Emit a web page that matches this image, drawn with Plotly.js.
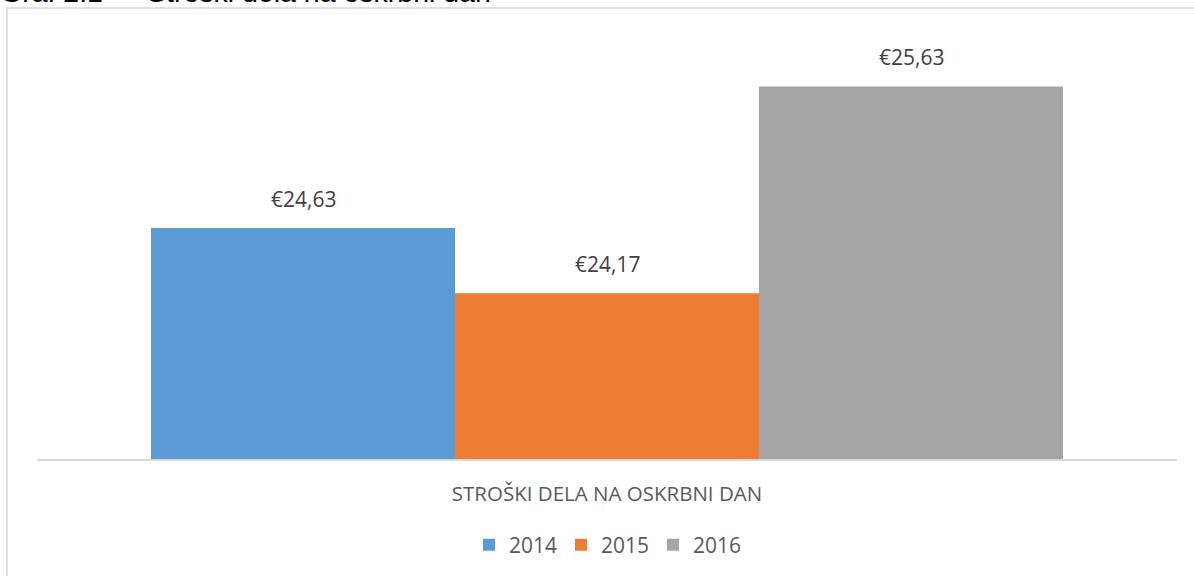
<!DOCTYPE html>
<html>
<head>
<meta charset="utf-8">
<script src="https://cdn.plot.ly/plotly-3.0.1.min.js"></script>
<style>html,body{margin:0;padding:0;background:#fff;}#chart{width:1194px;height:576px;}</style>
</head>
<body>
<div id="chart"></div>
<script>
const categories = ["STROŠKI DELA NA OSKRBNI DAN"];
const seriesNames = ["2014", "2015", "2016"];
const seriesValues = [24.63, 24.17, 25.63];
const seriesColors = ["#5B9BD5", "#ED7D31", "#A5A5A5"];
const titleNumber = "Graf 2.1 –";
const titleText = "Stroški dela na oskrbni dan";

function fmt(v){ return "€" + v.toFixed(2).replace(".", ","); }

const traces = seriesNames.map((n, i) => ({
  type: "bar",
  name: n,
  x: categories,
  y: [seriesValues[i]],
  marker: {color: seriesColors[i]},
  hoverinfo: "none"
}));

// data labels: offsets of grouped bars
const groupW = 1140 * 0.8;
const barW = groupW / seriesNames.length;
const annotations = seriesValues.map((v, i) => ({
  x: categories[0], y: v, xref: "x", yref: "y",
  xshift: (i - (seriesNames.length - 1) / 2) * barW,
  yshift: 13, yanchor: "bottom", showarrow: false,
  text: fmt(v),
  font: {family: "Open Sans", size: 21, color: "#404040"}
}));
const titleFont = {family: "Liberation Sans", size: 28.5, color: "#000"};
annotations.push({
  xref: "paper", yref: "paper", x: (-2 - 37) / 1140, xanchor: "left",
  y: (460 - 10) / 426, yanchor: "bottom", showarrow: false,
  text: titleNumber, font: titleFont
});
annotations.push({
  xref: "paper", yref: "paper", x: (145 - 37) / 1140, xanchor: "left",
  y: (460 - 10) / 426, yanchor: "bottom", showarrow: false,
  text: titleText, font: titleFont
});

const layout = {
  width: 1194, height: 576,
  margin: {l: 37, r: 17, t: 34, b: 116},
  paper_bgcolor: "#fff", plot_bgcolor: "#fff",
  barmode: "group", bargap: 0.2, bargroupgap: 0,
  showlegend: true,
  legend: {
    orientation: "h", x: 0.5, xanchor: "center",
    y: (460 - 545) / 426, yanchor: "middle",
    font: {family: "Open Sans", size: 21, color: "#595959"},
    traceorder: "normal", itemwidth: 30, entrywidth: 47
  },
  xaxis: {
    showline: true, linecolor: "#D9D9D9", linewidth: 1.5,
    showgrid: false, zeroline: false, ticks: "",
    ticklabelstandoff: 16,
    tickfont: {family: "Open Sans", size: 20.5, color: "#595959"},
    fixedrange: true
  },
  yaxis: {
    range: [23, 26], visible: false, fixedrange: true
  },
  shapes: [{
    type: "rect", xref: "paper", yref: "paper",
    x0: (7 - 37) / 1140, x1: (1196 - 37) / 1140,
    y0: (460 - 590) / 426, y1: (460 - 8) / 426,
    line: {color: "#D9D9D9", width: 1.5}, fillcolor: "rgba(0,0,0,0)"
  }],
  annotations: annotations
};

Plotly.newPlot("chart", traces, layout, {displayModeBar: false, staticPlot: true});
</script>
</body>
</html>
